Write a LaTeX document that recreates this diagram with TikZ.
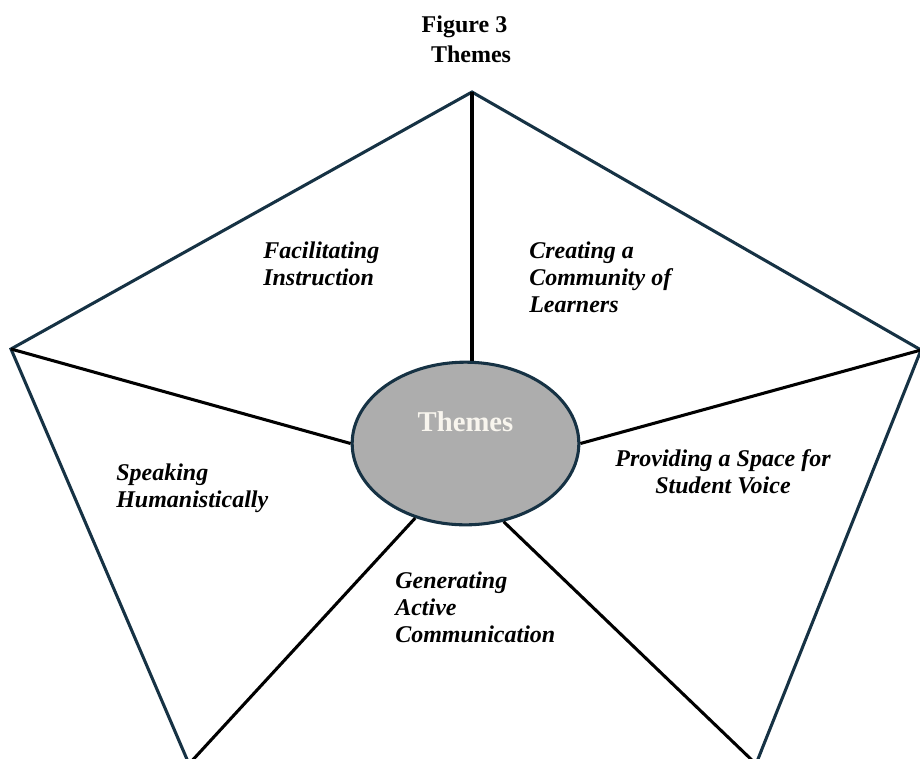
\documentclass[tikz,border=0pt]{standalone}
\usepackage{fontspec}
\setmainfont{Liberation Serif}
\usetikzlibrary{shapes.geometric}
\definecolor{rim}{RGB}{22,50,68}
\definecolor{hubgray}{RGB}{173,173,173}
\definecolor{hubtext}{RGB}{248,245,238}

\begin{document}
\begin{tikzpicture}[x=0.75pt,y=-0.75pt,
	title/.style={inner sep=0pt, anchor=base, font=\fontsize{18}{20}\selectfont\bfseries},
	theme/.style={inner sep=0pt, anchor=base west, align=left, font=\fontsize{18}{20.25}\selectfont\bfseries\itshape},
	spoke/.style={line width=2.3pt, black},
	rimline/.style={line width=2.3pt, rim, line join=miter}]
			%%%%% START %%%%%
			
			\useasboundingbox (0, 0) rectangle (920, 758);
			\clip (0, 0) rectangle (920, 758);
			
			\node[title] (figno) at (464.5, 32) {Figure 3};
			\node[title] (figname) at (471, 62) {Themes};
			
			\coordinate (apex) at (472, 92);
			\coordinate (lv) at (11, 349);
			\coordinate (rv) at (921, 350);
			\coordinate (bl) at (189, 764);
			\coordinate (br) at (756, 764);
			
			\draw[rimline] (apex) -- (rv) -- (br) -- (bl) -- (lv) -- cycle;
			
			\node[ellipse, draw=rim, line width=2.3pt, fill=hubgray, inner sep=0pt,
				minimum width=170pt, minimum height=122pt] (hub) at (465.5, 443.5) {};
			\node[text=hubtext, font=\fontsize{21.5}{24}\selectfont\bfseries, inner sep=0pt] (hubname) at ([yshift=16pt]hub.center) {Themes};
			
			\draw[spoke] (apex) -- (apex |- hub.north);
			\draw[spoke] (lv) -- (hub.west);
			\draw[spoke] (rv) -- (hub.east);
			\draw[spoke] (bl) -- (hub.236.6);
			\draw[spoke] (br) -- (hub.296.1);
			
			% base anchor sits on the last line
			\node[theme] (instr) at (263, 285) {Facilitating\\Instruction};
			\node[theme] (commun) at (529, 312) {Creating a\\Community of\\Learners};
			\node[theme] (speak) at (116, 507) {Speaking\\ Humanistically};
			\node[theme, anchor=base, align=center] (voice) at (723, 493) {Providing a Space for\\Student Voice};
			\node[theme] (active) at (395, 642) {Generating\\Active\\Communication};
			
			%%%%% END %%%%%
\end{tikzpicture}
\end{document}
